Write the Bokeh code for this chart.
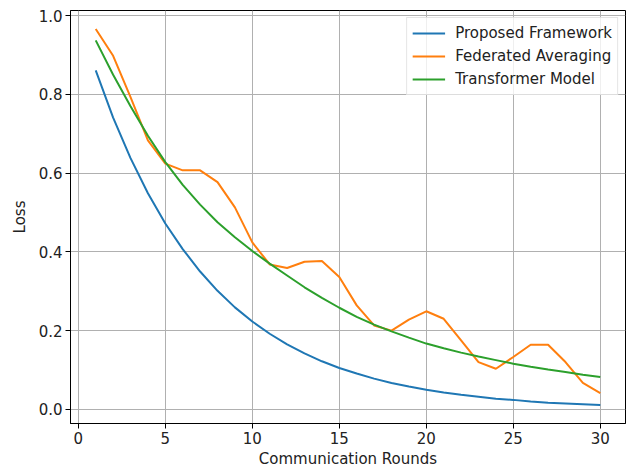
from bokeh.plotting import figure
from bokeh.models import Range1d, FixedTicker, PrintfTickFormatter, Legend, LegendItem
from bokeh.embed import file_html
from bokeh.resources import INLINE

rounds = list(range(1, 31))
proposed = [0.861, 0.741, 0.638, 0.549, 0.472, 0.407, 0.350, 0.301, 0.259, 0.223,
            0.192, 0.165, 0.142, 0.122, 0.105, 0.091, 0.078, 0.067, 0.058, 0.050,
            0.043, 0.037, 0.032, 0.027, 0.024, 0.020, 0.017, 0.015, 0.013, 0.011]
fedavg = [0.966, 0.898, 0.793, 0.683, 0.624, 0.607, 0.607, 0.577, 0.513, 0.424,
          0.368, 0.359, 0.375, 0.377, 0.336, 0.264, 0.213, 0.200, 0.228, 0.249,
          0.230, 0.175, 0.120, 0.103, 0.133, 0.164, 0.164, 0.120, 0.067, 0.041]
transformer = [0.937, 0.850, 0.770, 0.695, 0.628, 0.570, 0.520, 0.475, 0.437, 0.402,
               0.370, 0.340, 0.310, 0.283, 0.258, 0.235, 0.215, 0.198, 0.182, 0.167,
               0.155, 0.144, 0.134, 0.125, 0.116, 0.108, 0.101, 0.095, 0.088, 0.082]
series_names = ["Proposed Framework", "Federated Averaging", "Transformer Model"]
colors = ["#1f77b4", "#ff7f0e", "#2ca02c"]
x_ticks = [0, 5, 10, 15, 20, 25, 30]
y_ticks = [0.0, 0.2, 0.4, 0.6, 0.8, 1.0]

FONT = "DejaVu Sans"
FS = "15px"

p = figure(width=626, height=474, output_backend="svg", toolbar_location=None,
           x_range=Range1d(-0.45, 31.45), y_range=Range1d(-0.036, 1.013),
           min_border_left=70, min_border_right=1, min_border_top=10, min_border_bottom=51)

p.outline_line_color = "black"
p.outline_line_width = 1
p.outline_line_alpha = 1

renderers = []
for ys, c in zip([proposed, fedavg, transformer], colors):
    r = p.line(rounds, ys, line_color=c, line_width=2)
    renderers.append(r)

for ax in (p.xaxis, p.yaxis):
    ax.axis_line_color = "black"
    ax.major_tick_line_color = "black"
    ax.major_tick_out = 5
    ax.major_tick_in = 0
    ax.minor_tick_line_color = None
    ax.major_label_text_font = FONT
    ax.major_label_text_font_size = FS
    ax.major_label_text_color = "#222222"
    ax.axis_label_text_font = FONT
    ax.axis_label_text_font_size = FS
    ax.axis_label_text_font_style = "normal"
    ax.axis_label_text_color = "#222222"
    ax.major_label_standoff = 3

p.xaxis.ticker = FixedTicker(ticks=x_ticks)
p.yaxis.ticker = FixedTicker(ticks=y_ticks)
p.yaxis.formatter = PrintfTickFormatter(format="%.1f")
p.xaxis.axis_label = "Communication Rounds"
p.yaxis.axis_label = "Loss"
p.xaxis.axis_label_standoff = 3
p.yaxis.axis_label_standoff = 7

p.grid.grid_line_color = "#b0b0b0"
p.grid.grid_line_width = 1
p.xgrid.ticker = FixedTicker(ticks=x_ticks)
p.ygrid.ticker = FixedTicker(ticks=y_ticks)

legend = Legend(items=[LegendItem(label=n, renderers=[r]) for n, r in zip(series_names, renderers)],
                location="top_right")
legend.label_text_font = FONT
legend.label_text_font_size = FS
legend.label_text_color = "#222222"
legend.glyph_width = 33
legend.glyph_height = 20
legend.label_height = 20
legend.label_standoff = 10
legend.spacing = 3
legend.padding = 5
legend.margin = 7
legend.border_line_color = "#cccccc"
legend.border_line_width = 1
legend.background_fill_color = "white"
legend.background_fill_alpha = 0.8
p.add_layout(legend)

open("out.html", "w").write(file_html(p, INLINE))
